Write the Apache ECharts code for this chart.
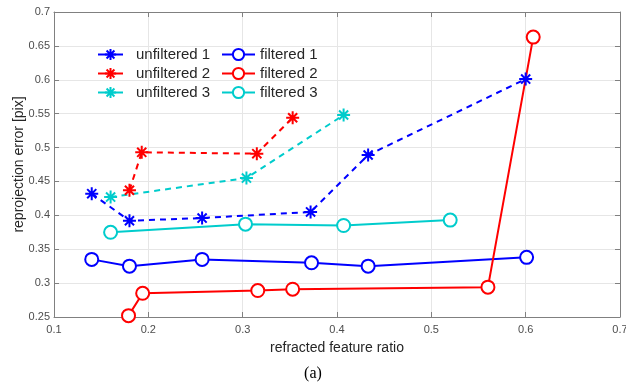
<!DOCTYPE html>
<html><head><meta charset="utf-8">
<script src="https://cdn.jsdelivr.net/npm/echarts@6/dist/echarts.min.js"></script>
<style>html,body{margin:0;padding:0;background:#fff}#c{width:626px;height:385px}</style>
</head><body><div id="c"></div>
<script>
const xU1 = [0.140, 0.180, 0.257, 0.372, 0.433, 0.600];
const yU1 = [0.432, 0.392, 0.396, 0.405, 0.489, 0.601];
const xU2 = [0.180, 0.193, 0.315, 0.353];
const yU2 = [0.437, 0.493, 0.491, 0.544];
const xU3 = [0.160, 0.304, 0.407];
const yU3 = [0.427, 0.455, 0.548];
const xF1 = [0.140, 0.180, 0.257, 0.373, 0.433, 0.601];
const yF1 = [0.335, 0.325, 0.335, 0.330, 0.325, 0.338];
const xF2 = [0.179, 0.194, 0.316, 0.353, 0.560, 0.608];
const yF2 = [0.252, 0.285, 0.289, 0.291, 0.294, 0.663];
const xF3 = [0.160, 0.303, 0.407, 0.520];
const yF3 = [0.375, 0.387, 0.385, 0.393];
const xTicks = [0.1, 0.2, 0.3, 0.4, 0.5, 0.6, 0.7];
const yTicks = [0.25, 0.3, 0.35, 0.4, 0.45, 0.5, 0.55, 0.6, 0.65, 0.7];

const STAR = 'path://M0,-10L0,10M-10,0L10,0M-7,-7L7,7M-7,7L7,-7';
const zip = (a, b) => a.map((v, i) => [v, b[i]]);
const font = 'Liberation Sans, Helvetica, Arial, sans-serif';

function unf(name, xs, ys, color) {
  return {name, type: 'line', data: zip(xs, ys), symbol: STAR, symbolSize: 13,
    lineStyle: {color, width: 2, type: [6, 5]},
    itemStyle: {color, borderColor: color, borderWidth: 2}, z: 3};
}
function fil(name, xs, ys, color) {
  return {name, type: 'line', data: zip(xs, ys), symbol: 'emptyCircle', symbolSize: 13,
    lineStyle: {color, width: 2},
    itemStyle: {color, borderColor: color, borderWidth: 2}, z: 2};
}
const axisLineC = '#808080';
const chart = echarts.init(document.getElementById('c'));
chart.setOption({
  animation: false,
  backgroundColor: '#fff',
  grid: {left: 54, right: 6, top: 12, bottom: 68, containLabel: false, outerBoundsMode: 'none'},
  xAxis: [{
    type: 'value', min: 0.1, max: 0.7, interval: 0.1,
    axisLine: {show: true, lineStyle: {color: axisLineC}},
    axisTick: {show: true, inside: true, length: 5, lineStyle: {color: axisLineC}},
    axisLabel: {color: '#4d4d4d', fontSize: 11, fontFamily: font, margin: 7,
      formatter: v => String(+v.toFixed(2))},
    splitLine: {show: true, lineStyle: {color: '#e6e6e6'}},
    name: 'refracted feature ratio', nameLocation: 'middle', nameGap: 24, nameMoveOverlap: false,
    nameTextStyle: {color: '#262626', fontSize: 14, fontFamily: font}
  }, {
    type: 'value', position: 'top', min: 0.1, max: 0.7, interval: 0.1,
    axisLine: {show: true, lineStyle: {color: axisLineC}},
    axisTick: {show: true, inside: true, length: 5, lineStyle: {color: axisLineC}},
    axisLabel: {show: false}, splitLine: {show: false}
  }],
  yAxis: [{
    type: 'value', min: 0.25, max: 0.7, interval: 0.05,
    axisLine: {show: true, lineStyle: {color: axisLineC}},
    axisTick: {show: true, inside: true, length: 5, lineStyle: {color: axisLineC}},
    axisLabel: {color: '#4d4d4d', fontSize: 11, fontFamily: font, margin: 4,
      formatter: v => String(+v.toFixed(2))},
    splitLine: {show: true, lineStyle: {color: '#e6e6e6'}},
    name: 'reprojection error [pix]', nameLocation: 'middle', nameGap: 28, nameMoveOverlap: false,
    nameTextStyle: {color: '#262626', fontSize: 14, fontFamily: font}
  }, {
    type: 'value', position: 'right', min: 0.25, max: 0.7, interval: 0.05,
    axisLine: {show: true, lineStyle: {color: axisLineC}},
    axisTick: {show: true, inside: true, length: 5, lineStyle: {color: axisLineC}},
    axisLabel: {show: false}, splitLine: {show: false}
  }],
  legend: [{
    data: ['unfiltered 1', 'unfiltered 2', 'unfiltered 3'], orient: 'vertical',
    left: 92, top: 42, itemWidth: 25, itemHeight: 14, itemGap: 4,
    lineStyle: {type: 'solid'},
    textStyle: {color: '#262626', fontSize: 15, fontFamily: font, padding: [0, 0, 0, 8]}
  }, {
    data: ['filtered 1', 'filtered 2', 'filtered 3'], orient: 'vertical',
    left: 216, top: 42, itemWidth: 33, itemHeight: 14, itemGap: 4,
    textStyle: {color: '#262626', fontSize: 15, fontFamily: font}
  }],
  graphic: [{type: 'text', left: 'center', top: 366,
    style: {text: '(a)', fontSize: 16, fontFamily: 'Liberation Serif, Times New Roman, serif', fill: '#000'}}],
  series: [
    unf('unfiltered 1', xU1, yU1, '#0000ff'),
    unf('unfiltered 2', xU2, yU2, '#ff0000'),
    unf('unfiltered 3', xU3, yU3, '#00cccc'),
    fil('filtered 1', xF1, yF1, '#0000ff'),
    fil('filtered 2', xF2, yF2, '#ff0000'),
    fil('filtered 3', xF3, yF3, '#00cccc')
  ]
});
</script></body></html>
